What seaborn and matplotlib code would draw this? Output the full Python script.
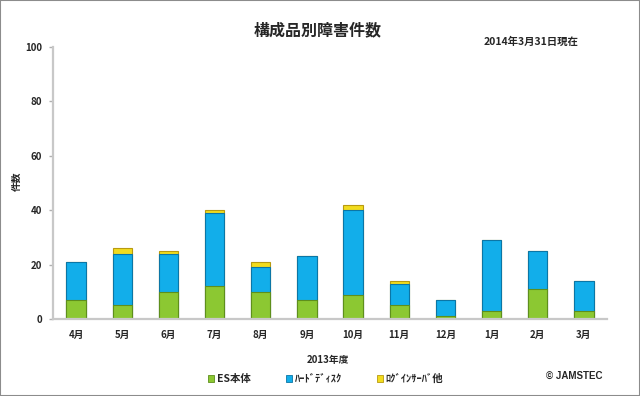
import matplotlib
matplotlib.use("Agg")
import matplotlib.pyplot as plt
from matplotlib.patches import Rectangle, Patch
from matplotlib.ticker import FixedLocator
import seaborn as sns
import pandas as pd

# 月別データ (2013年度)
months = ["4月", "5月", "6月", "7月", "8月", "9月", "10月", "11月", "12月", "1月", "2月", "3月"]
es_honntai = [7, 5, 10, 12, 10, 7, 9, 5, 1, 3, 11, 3]
hard_disk = [14, 19, 14, 27, 9, 16, 31, 8, 6, 26, 14, 11]
login_server = [0, 2, 1, 1, 2, 0, 2, 1, 0, 0, 0, 0]
series_names = ["ES本体", "ﾊｰﾄﾞﾃﾞｨｽｸ", "ﾛｸﾞｲﾝｻｰﾊﾞ他"]

df = pd.DataFrame({"month": months, "es": es_honntai, "hd": hard_disk, "login": login_server})
df["es_hd"] = df["es"] + df["hd"]
df["total"] = df["es_hd"] + df["login"]

green, green_edge = "#8cc832", "#5e8f1c"
blue, blue_edge = "#12aeea", "#0b76a6"
yellow, yellow_edge = "#f2dc1e", "#b89a10"

sns.set_style("white")
plt.rcParams["font.family"] = ["Noto Sans CJK JP", "DejaVu Sans"]
plt.rcParams["font.weight"] = "bold"

fig = plt.figure(figsize=(6.4, 3.96), dpi=100)
ax = fig.add_axes([53 / 640, 77 / 396, 554 / 640, 272 / 396])

# 積み上げ棒: 合計 → ES+HDD → ES の順に重ねる
sns.barplot(data=df, x="month", y="total", order=months, color=yellow, saturation=1,
            width=0.42, edgecolor=yellow_edge, linewidth=0.8, ax=ax)
sns.barplot(data=df, x="month", y="es_hd", order=months, color=blue, saturation=1,
            width=0.42, edgecolor=blue_edge, linewidth=0.8, ax=ax)
sns.barplot(data=df, x="month", y="es", order=months, color=green, saturation=1,
            width=0.42, edgecolor=green_edge, linewidth=0.8, ax=ax)

ax.set_ylim(0, 100)
ax.set_xlim(-0.5, len(months) - 0.5)
ax.set_yticks(range(0, 101, 20))
ax.xaxis.set_minor_locator(FixedLocator([i - 0.5 for i in range(len(months) + 1)]))
ax.tick_params(axis="x", which="major", length=0, pad=8, labelsize=7)
ax.tick_params(axis="x", which="minor", length=3, color="#b0b0b0", width=1)
ax.tick_params(axis="y", length=3, color="#b0b0b0", width=1, pad=5, labelsize=7, left=True)
for lab in ax.get_xticklabels() + ax.get_yticklabels():
    lab.set_fontweight("bold")

for side in ["top", "right"]:
    ax.spines[side].set_visible(False)
for side in ["left", "bottom"]:
    ax.spines[side].set_color("#c8c8c8")
    ax.spines[side].set_linewidth(1.6)

ax.set_xlabel("")
ax.set_ylabel("")
fig.text(17 / 640, 1 - 181 / 396, "件数", ha="center", va="center", rotation=90,
         fontsize=7, fontweight="bold")
fig.text(328 / 640, 1 - 360 / 396, "2013年度", ha="center", va="center", fontsize=7, fontweight="bold")

fig.text(318 / 640, 1 - 30.5 / 396, "構成品別障害件数", ha="center", va="center", fontsize=11.5, fontweight="bold")
fig.text(531 / 640, 1 - 41.5 / 396, "2014年3月31日現在", ha="center", va="center", fontsize=7.5, fontweight="bold")
fig.text(574 / 640, 1 - 376 / 396, "© JAMSTEC", ha="center", va="center", fontsize=7, fontweight="bold",
         family=["Liberation Sans", "DejaVu Sans"])

handles = [Patch(facecolor=green, edgecolor=green_edge, lw=0.6),
           Patch(facecolor=blue, edgecolor=blue_edge, lw=0.6),
           Patch(facecolor=yellow, edgecolor=yellow_edge, lw=0.6)]
fig.legend(handles, series_names, loc="center left", bbox_to_anchor=(208 / 640, 1 - 379 / 396),
           ncol=3, frameon=False, prop={"weight": "bold", "size": 7.5},
           handlelength=0.6, handleheight=0.6, handletextpad=0.3, columnspacing=3.3,
           borderpad=0, borderaxespad=0)

fig.patches.append(Rectangle((0, 0), 1, 1, transform=fig.transFigure, fill=False,
                             edgecolor="#8c8c8c", linewidth=1.5))

fig.savefig("out.png", dpi=100)
